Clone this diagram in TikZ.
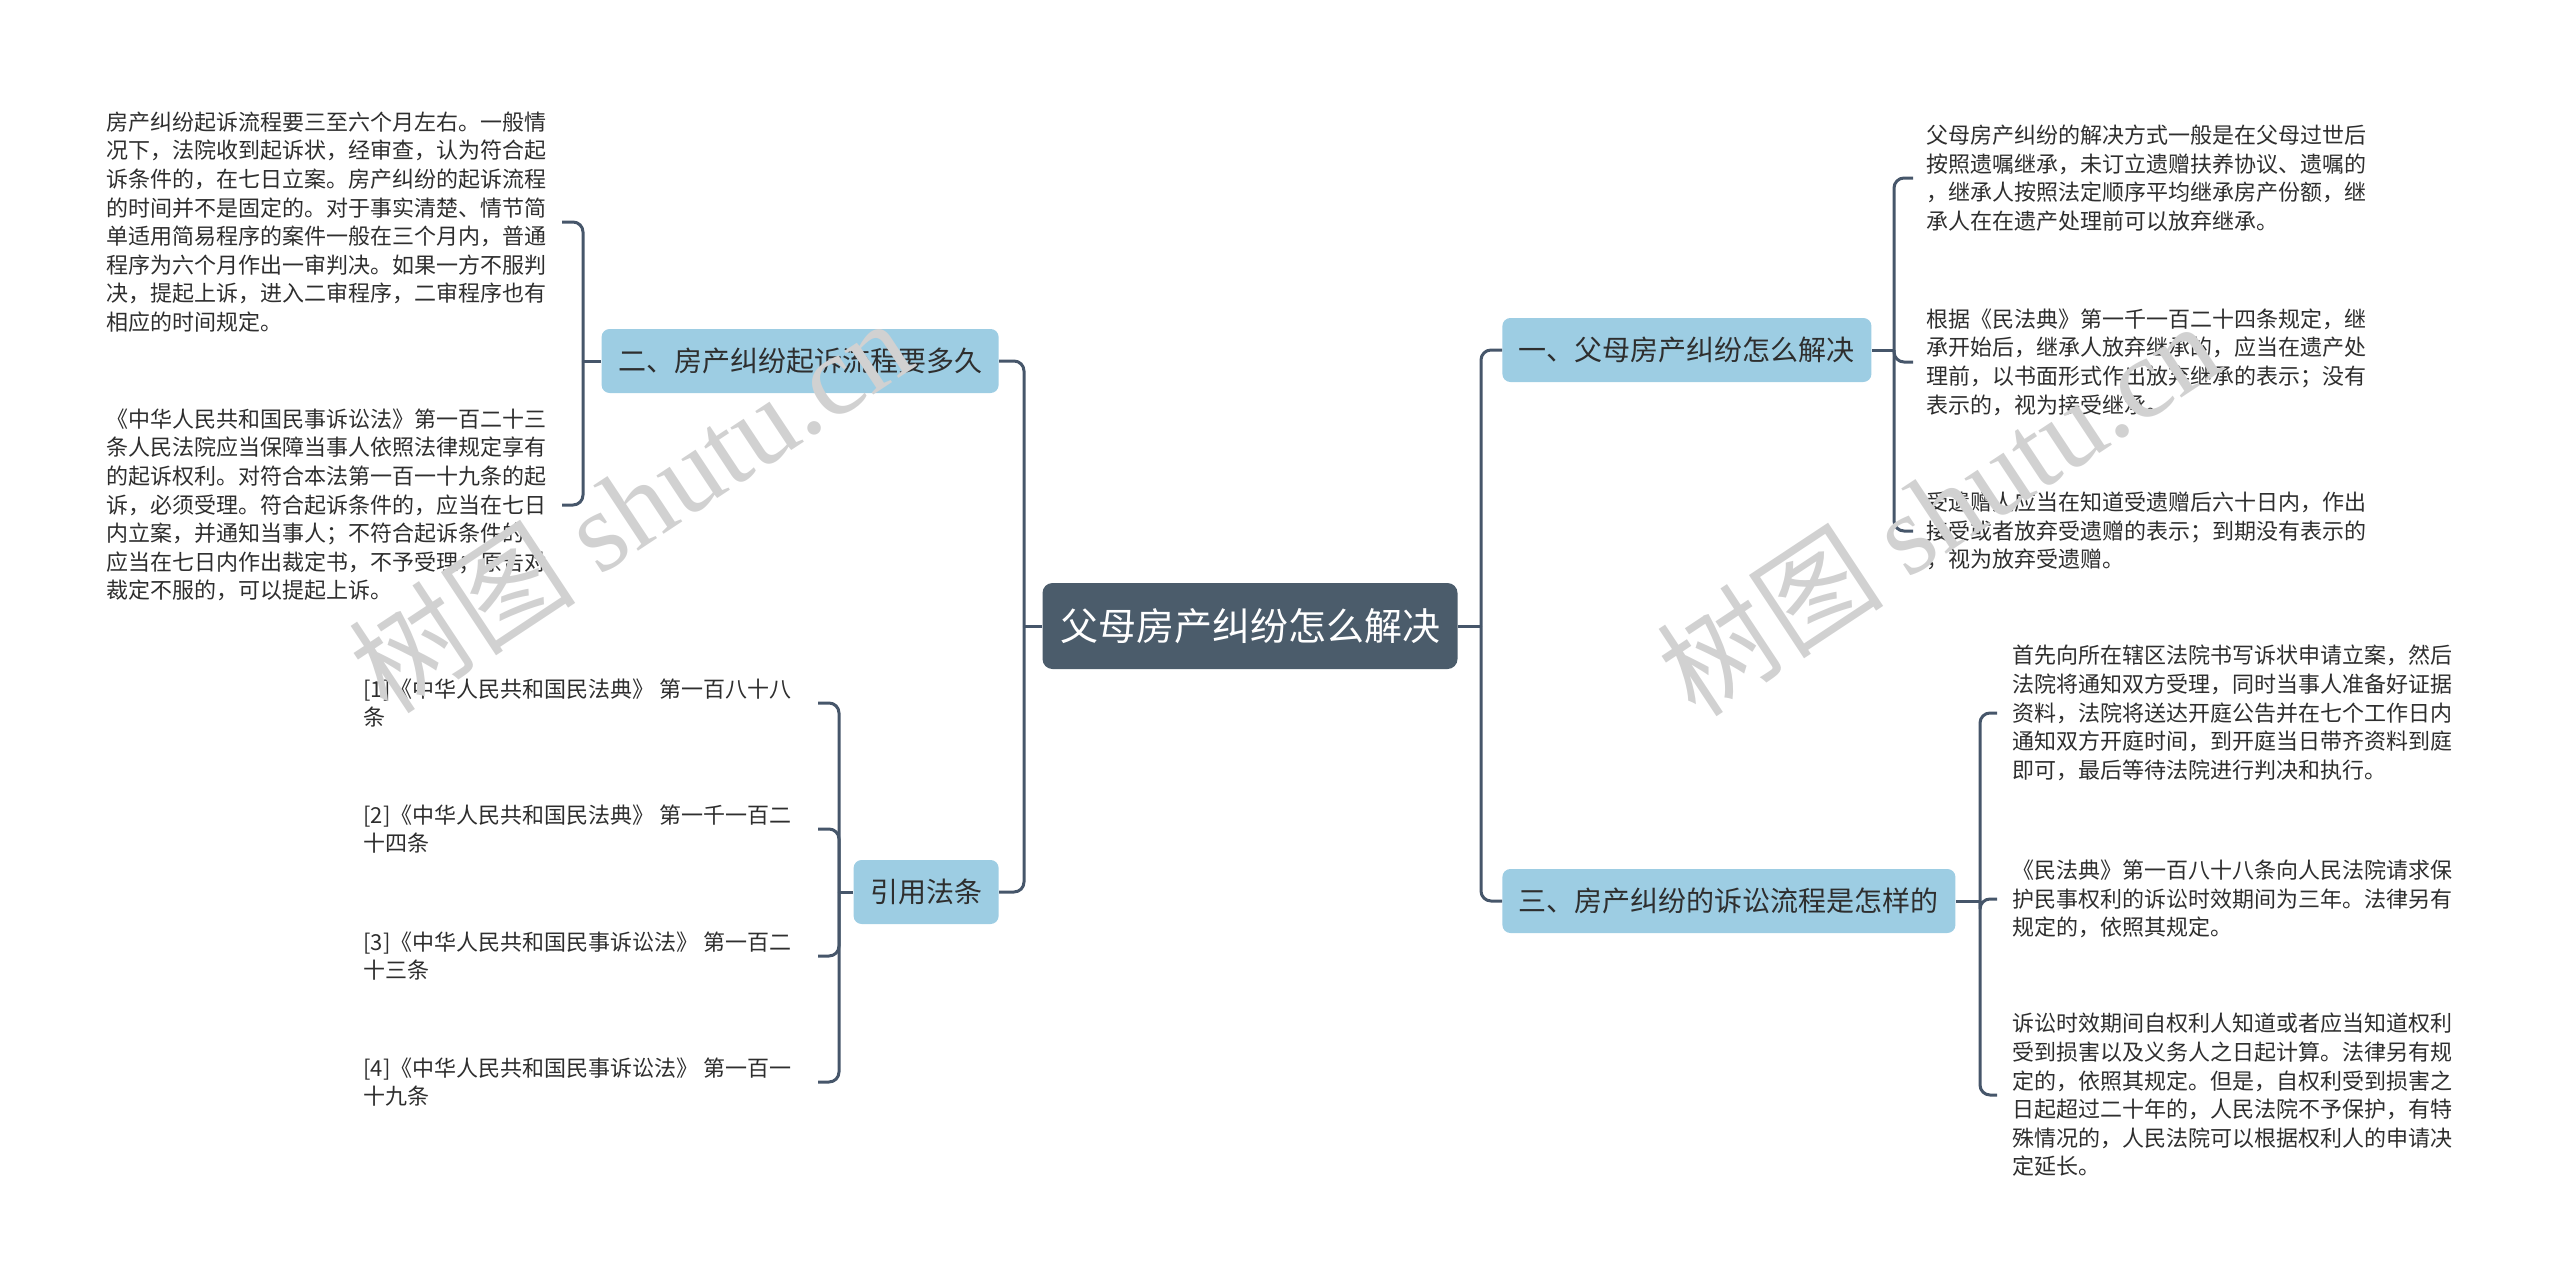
\documentclass[tikz,border=0pt]{standalone}
\usepackage{fontspec}
\setmainfont{Noto Sans CJK SC}
\newfontfamily\wmserif{Liberation Serif}
\definecolor{rootc}{HTML}{4B5C6B}
\definecolor{topicc}{HTML}{9DCDE3}
\definecolor{linec}{HTML}{46566A}
\definecolor{txt}{HTML}{2E2E2E}
\begin{document}
\begin{tikzpicture}[x=0.5pt,y=-0.5pt,
  root/.style={fill=rootc, rounded corners=5pt, text=white, font=\fontsize{19}{22}\selectfont, minimum height=43pt, inner xsep=8.75pt},
  topic/.style={fill=topicc, rounded corners=4pt, text=txt, font=\fontsize{14}{17}\selectfont, minimum height=32pt, inner xsep=8.25pt},
  leaf/.style={align=left, text=txt, font=\fontsize{11}{14.3}\selectfont, inner sep=0pt},
  link/.style={draw=linec, line width=1.5pt, rounded corners=5pt},
  wm/.style={text=black!18, font=\fontsize{57}{57}\selectfont, rotate=33.5}]
\useasboundingbox (0,0) rectangle (2560,1285);

% root and topics
\node[root] (c) at (1250,626) {父母房产纠纷怎么解决};
\node[topic, anchor=east] (b2) at (999,361) {二、房产纠纷起诉流程要多久};
\node[topic, anchor=east] (bR) at (999,892) {引用法条};
\node[topic, anchor=west] (b1) at (1502,350) {一、父母房产纠纷怎么解决};
\node[topic, anchor=west] (b3) at (1502,901) {三、房产纠纷的诉讼流程是怎样的};

% leaves of b2
\node[leaf, anchor=west] (l1) at (106,222) {房产纠纷起诉流程要三至六个月左右。一般情\\况下，法院收到起诉状，经审查，认为符合起\\诉条件的，在七日立案。房产纠纷的起诉流程\\的时间并不是固定的。对于事实清楚、情节简\\单适用简易程序的案件一般在三个月内，普通\\程序为六个月作出一审判决。如果一方不服判\\决，提起上诉，进入二审程序，二审程序也有\\相应的时间规定。};
\node[leaf, anchor=west] (l2) at (106,505) {《中华人民共和国民事诉讼法》第一百二十三\\条人民法院应当保障当事人依照法律规定享有\\的起诉权利。对符合本法第一百一十九条的起\\诉，必须受理。符合起诉条件的，应当在七日\\内立案，并通知当事人；不符合起诉条件的，\\应当在七日内作出裁定书，不予受理；原告对\\裁定不服的，可以提起上诉。};

% leaves of bR
\node[leaf, anchor=west] (f1) at (363,703) {[1]《中华人民共和国民法典》 第一百八十八\\条};
\node[leaf, anchor=west] (f2) at (363,829) {[2]《中华人民共和国民法典》 第一千一百二\\十四条};
\node[leaf, anchor=west] (f3) at (363,956) {[3]《中华人民共和国民事诉讼法》 第一百二\\十三条};
\node[leaf, anchor=west] (f4) at (363,1082) {[4]《中华人民共和国民事诉讼法》 第一百一\\十九条};

% leaves of b1
\node[leaf, anchor=west] (r1) at (1926,178) {父母房产纠纷的解决方式一般是在父母过世后\\按照遗嘱继承，未订立遗赠扶养协议、遗嘱的\\，继承人按照法定顺序平均继承房产份额，继\\承人在在遗产处理前可以放弃继承。};
\node[leaf, anchor=west] (r2) at (1926,362) {根据《民法典》第一千一百二十四条规定，继\\承开始后，继承人放弃继承的，应当在遗产处\\理前，以书面形式作出放弃继承的表示；没有\\表示的，视为接受继承。};
\node[leaf, anchor=west] (r3) at (1926,531) {受遗赠人应当在知道受遗赠后六十日内，作出\\接受或者放弃受遗赠的表示；到期没有表示的\\，视为放弃受遗赠。};

% leaves of b3
\node[leaf, anchor=west] (r4) at (2012,713) {首先向所在辖区法院书写诉状申请立案，然后\\法院将通知双方受理，同时当事人准备好证据\\资料，法院将送达开庭公告并在七个工作日内\\通知双方开庭时间，到开庭当日带齐资料到庭\\即可，最后等待法院进行判决和执行。};
\node[leaf, anchor=west] (r5) at (2012,899) {《民法典》第一百八十八条向人民法院请求保\\护民事权利的诉讼时效期间为三年。法律另有\\规定的，依照其规定。};
\node[leaf, anchor=west] (r6) at (2012,1095) {诉讼时效期间自权利人知道或者应当知道权利\\受到损害以及义务人之日起计算。法律另有规\\定的，依照其规定。但是，自权利受到损害之\\日起超过二十年的，人民法院不予保护，有特\\殊情况的，人民法院可以根据权利人的申请决\\定延长。};

% junctions and end columns
\coordinate (jL) at (1024,626);
\coordinate (jR) at (1481,626);
\coordinate (j2) at (583,361);
\coordinate (jF) at (839,892);
\coordinate (j1) at (1894,350);
\coordinate (j3) at (1980,901);
\coordinate (xL) at (562,0);
\coordinate (xF) at (818,0);
\coordinate (xR1) at (1913,0);
\coordinate (xR3) at (1997,0);

% root connectors
\draw[link] (c.west) -- (jL);
\draw[link] (jL) |- (b2.east);
\draw[link] (jL) |- (bR.east);
\draw[link] (c.east) -- (jR);
\draw[link] (jR) |- (b1.west);
\draw[link] (jR) |- (b3.west);

% b2 connectors
\draw[link] (b2.west) -- (j2);
\draw[link] (j2) |- (l1.east -| xL);
\draw[link] (j2) |- (l2.east -| xL);

% bR connectors
\draw[link] (bR.west) -- (jF);
\draw[link] (jF) |- (f1.east -| xF);
\draw[link] (jF) |- (f2.east -| xF);
\draw[link] (jF) |- (f3.east -| xF);
\draw[link] (jF) |- (f4.east -| xF);

% b1 connectors
\draw[link] (b1.east) -- (j1);
\draw[link] (j1) |- (r1.west -| xR1);
\draw[link] (j1) |- (r2.west -| xR1);
\draw[link] (j1) |- (r3.west -| xR1);

% b3 connectors
\draw[link] (b3.east) -- (j3);
\draw[link] (j3) |- (r4.west -| xR3);
\draw[link] (j3) |- (r5.west -| xR3);
\draw[link] (j3) |- (r6.west -| xR3);

% watermarks
\node[wm] (w1) at (630,505) {树图 {\wmserif shutu.cn}};
\node[wm] (w2) at (1938,508) {树图 {\wmserif shutu.cn}};
\end{tikzpicture}
\end{document}
